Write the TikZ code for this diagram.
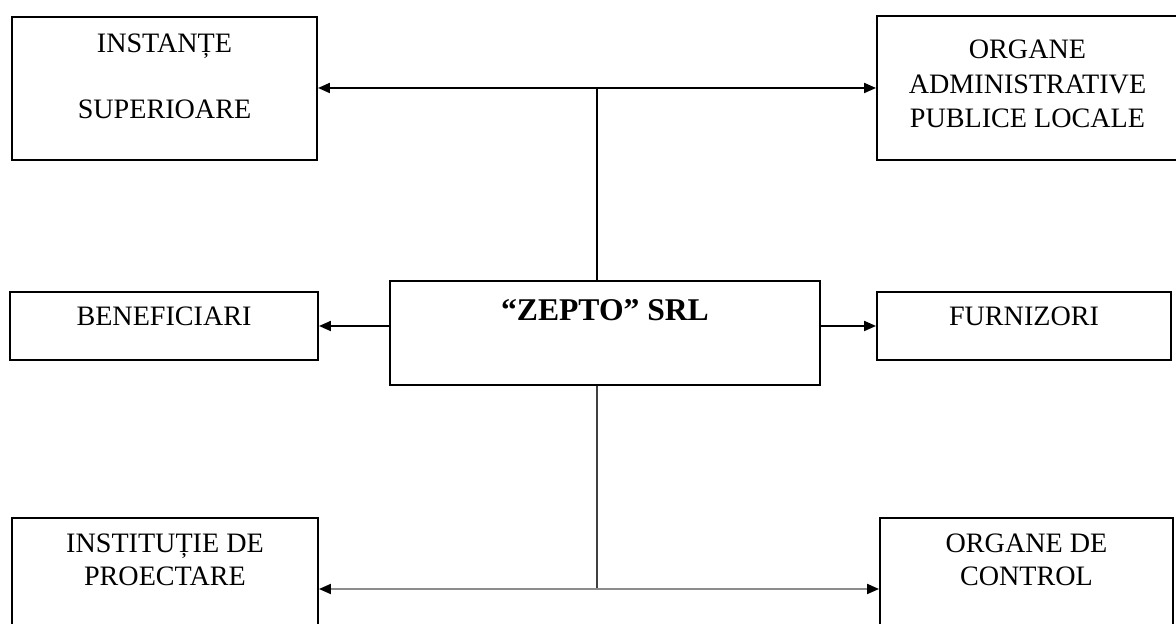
\documentclass[tikz,border=0pt]{standalone}
\usepackage{fontspec}
\setmainfont{Liberation Serif}
\usepackage{tikz}
\usetikzlibrary{positioning, arrows.meta, calc}

\begin{document}
\begin{tikzpicture}[
  box/.style={rectangle, draw=black, line width=1.1pt, inner sep=0pt},
  lbl/.style={anchor=north, inner sep=0pt, align=center, font=\fontsize{16}{18.5}\selectfont},
  link/.style={line width=1.1pt},
  arrow/.style={link, -{Triangle[length=2.4mm, width=2mm, color=black]}}
]
  \useasboundingbox (0,0) rectangle (23.52,12.48);
  \clip (0,0) rectangle (23.52,12.48);

  \node[box, minimum width=6.10cm, minimum height=2.86cm] (inst) at (3.29,10.71) {};
  \node[box, minimum width=6.02cm, minimum height=2.88cm] (adm) at (20.55,10.72) {};
  \node[box, minimum width=6.16cm, minimum height=1.36cm] (benef) at (3.28,5.96) {};
  \node[box, minimum width=8.60cm, minimum height=2.08cm] (zepto) at (12.10,5.82) {};
  \node[box, minimum width=5.88cm, minimum height=1.36cm] (furn) at (20.48,5.96) {};
  \node[box, minimum width=6.12cm, minimum height=2.44cm] (proiect) at (3.30,0.90) {};
  \node[box, minimum width=5.86cm, minimum height=2.44cm] (control) at (20.53,0.90) {};

  \node[lbl] (instlbl) at ([yshift=-0.36cm]inst.north) {INSTANȚE\\[19pt]SUPERIOARE};
  \node[lbl, font=\fontsize{16}{19.5}\selectfont] (admlbl) at ([yshift=-0.50cm]adm.north) {ORGANE\\ADMINISTRATIVE\\PUBLICE LOCALE};
  \node[lbl] (beneflbl) at ([yshift=-0.32cm]benef.north) {BENEFICIARI};
  \node[lbl, font=\bfseries\fontsize{18}{22}\selectfont] (zeptolbl) at ([yshift=-0.38cm]zepto.north) {“ZEPTO” SRL};
  \node[lbl] (furnlbl) at ([yshift=-0.32cm]furn.north) {FURNIZORI};
  \node[lbl] (proiectlbl) at ([yshift=-0.34cm]proiect.north) {INSTITUȚIE DE\\PROECTARE};
  \node[lbl] (controllbl) at ([yshift=-0.34cm]control.north) {ORGANE DE\\CONTROL};

  \coordinate (tj) at (11.94,10.72);
  \coordinate (bj) at (11.94,0.70);

  \draw[link] (tj) -- (tj |- zepto.north);
  \draw[arrow] (tj) -- (tj -| inst.east);
  \draw[arrow] (tj) -- (tj -| adm.west);

  \draw[arrow] (zepto.west |- benef) -- (benef.east);
  \draw[arrow] (zepto.east |- furn) -- (furn.west);

  \draw[link, black!75] (bj |- zepto.south) -- (bj);
  \draw[arrow, black!45] (bj) -- (bj -| proiect.east);
  \draw[arrow, black!45] (bj) -- (bj -| control.west);
\end{tikzpicture}
\end{document}
